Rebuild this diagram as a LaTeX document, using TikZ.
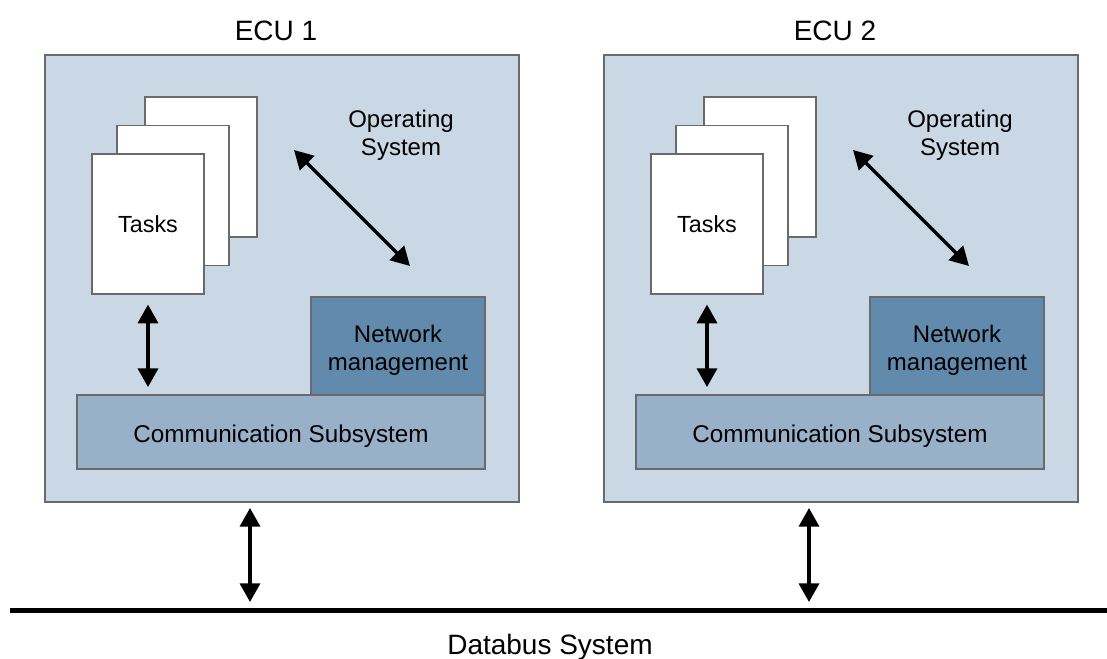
\documentclass[tikz,border=0pt]{standalone}
\usepackage{fontspec}
\setmainfont{Liberation Sans}
\usetikzlibrary{arrows.meta}
\definecolor{ecufill}{HTML}{CAD8E5}
\definecolor{commfill}{HTML}{98B1C9}
\definecolor{netfill}{HTML}{628AAD}
\definecolor{edge}{HTML}{6A6A6A}
\tikzset{
  ecubox/.style={draw=edge, line width=1.1pt, fill=ecufill, minimum width=355.5pt, minimum height=335.25pt, inner sep=0pt},
  page/.style={draw=edge, line width=0.9pt, fill=white, minimum width=84pt, minimum height=105pt, inner sep=0pt, font=\fontsize{17.5pt}{20pt}\selectfont},
  netbox/.style={draw=edge, line width=0.9pt, fill=netfill, minimum width=130.5pt, minimum height=73.5pt, inner sep=0pt},
  commbox/.style={draw=edge, line width=0.9pt, fill=commfill, minimum width=306pt, minimum height=55.5pt, inner sep=0pt},
  inlbl/.style={yshift=-3.5pt, inner sep=0pt, align=center, font=\fontsize{18pt}{21pt}\selectfont},
  lbl/.style={align=center, inner sep=0pt, font=\fontsize{18pt}{21pt}\selectfont},
  title/.style={inner sep=0pt, font=\fontsize{21pt}{25pt}\selectfont},
  dbl/.style={line width=2.6pt, {Triangle[length=14pt,width=15pt]}-{Triangle[length=14pt,width=15pt]}},
}
\begin{document}
\begin{tikzpicture}[x=0.75pt,y=-0.75pt]
\useasboundingbox (0,0) rectangle (1107,659);
\foreach \i/\dx in {1/0,2/559}{
  \begin{scope}[xshift=\dx*0.75pt]
  \node[ecubox] (e\i) at (282,278.5) {};
  \node[title] (ecu\i) at (276,31) {ECU \i};
  \node[page] (pc\i) at (201,167) {};
  \node[page] (pb\i) at (173,195.5) {};
  \node[page] (pa\i) at (148,224) {Tasks};
  \node[lbl] (os\i) at (401,135) {Operating\\System};
  \node[netbox, label={[inlbl]center:Network\\management}] (nm\i) at (398,346) {};
  \node[commbox, label={[inlbl, font=\fontsize{18.2pt}{21pt}\selectfont]center:Communication Subsystem}] (cs\i) at (281,432) {};
  \coordinate (da\i) at (294,150);
  \coordinate (db\i) at (410,266);
  \coordinate (bu\i) at (250,508);
  \coordinate (bd\i) at (250,602);
  \end{scope}
}
\coordinate (busL) at (10,610.5);
\coordinate (busR) at (1107,610.5);
\draw[line width=3.8pt] (busL) -- (busR);
\node[title] (bus) at (550,647) {Databus System};
\foreach \i in {1,2}{
  \draw[dbl] (da\i) -- (db\i);
  \draw[dbl, shorten <=7.5pt, shorten >=5.5pt] (pa\i.south) -- (pa\i.south |- cs\i.north);
  \draw[dbl] (bu\i) -- (bd\i);
}
\end{tikzpicture}
\end{document}
